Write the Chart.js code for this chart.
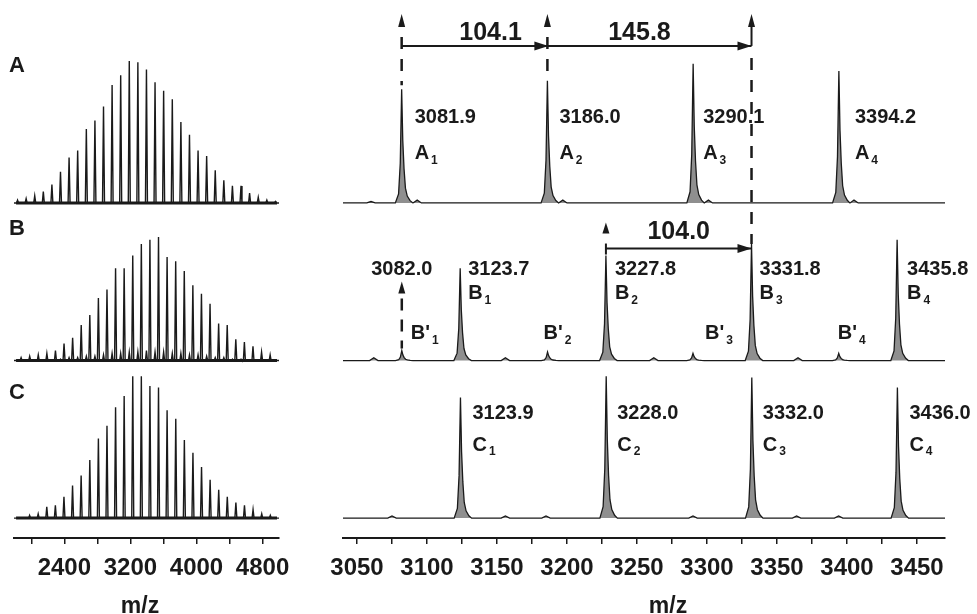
<!DOCTYPE html>
<html>
<head>
<meta charset="utf-8">
<script src="https://cdn.jsdelivr.net/npm/chart.js@4.4.1/dist/chart.umd.min.js"></script>
<style>
  body { margin: 0; width: 977px; height: 614px; overflow: hidden; background: #fff; position: relative;
         font-family: 'Liberation Sans', Arial, sans-serif; color: #1a1a1a; }
  .wrap { position: absolute; top: 0; height: 614px; }
  .txt { position: absolute; font-weight: bold; font-size: 22px; line-height: 26px; white-space: nowrap; }
</style>
</head>
<body>
<div class="wrap" style="left:0;width:300px"><canvas id="left"></canvas></div>
<div class="wrap" style="left:310px;width:667px"><canvas id="right"></canvas></div>
<div class="txt" style="left:9px;top:52px">A</div>
<div class="txt" style="left:9px;top:215px">B</div>
<div class="txt" style="left:9px;top:379px">C</div>
<div class="txt" style="left:100px;top:592px;width:80px;text-align:center;font-size:23px">m/z</div>
<div class="txt" style="left:628px;top:592px;width:80px;text-align:center;font-size:23px">m/z</div>
<script>
// overview spectra (left): peak m/z and intensity in % of the tallest peak
const overviewA_mz = [1833, 1937, 2041, 2145, 2249, 2353, 2457, 2561, 2666, 2770, 2874, 2978, 3082, 3186, 3290, 3394, 3498, 3602, 3707, 3811, 3915, 4019, 4123, 4227, 4331, 4435, 4539, 4643, 4748, 4852, 4956];
const overviewA_int = [2, 3, 5, 8, 13, 22, 32, 37, 52, 58, 68, 83, 90, 100, 99, 94, 85, 79, 73, 57, 48, 37, 33, 23, 16, 12, 12, 7, 4, 2, 1];
const overviewB_mz = [1876, 1980, 2084, 2188, 2292, 2396, 2500, 2604, 2708, 2812, 2916, 3020, 3124, 3228, 3332, 3436, 3540, 3644, 3748, 3852, 3956, 4060, 4164, 4268, 4372, 4476, 4580, 4684, 4788, 4892];
const overviewB_int = [2, 3, 4, 5, 7, 12, 16, 25, 32, 44, 50, 65, 65, 74, 82, 85, 87, 73, 70, 63, 53, 47, 40, 26, 25, 15, 13, 10, 6, 4];
const overviewBp_mz = [2353, 2457, 2561, 2666, 2770, 2874, 2978, 3082, 3186, 3290, 3394, 3498, 3602, 3707, 3811, 3915, 4019, 4123, 4227, 4331, 4435, 4539];
const overviewBp_int = [1, 2, 2, 3, 3, 4, 5, 5, 6, 6, 7, 6, 6, 5, 5, 4, 4, 3, 2, 2, 1, 1];
const overviewC_mz = [1979, 2083, 2187, 2291, 2395, 2499, 2603, 2708, 2812, 2916, 3020, 3124, 3228, 3332, 3436, 3540, 3644, 3749, 3853, 3957, 4061, 4165, 4269, 4373, 4477, 4581, 4685, 4790, 4894];
const overviewC_int = [2, 3, 8, 9, 15, 23, 30, 41, 56, 65, 78, 86, 100, 100, 93, 92, 76, 70, 55, 46, 36, 27, 20, 15, 11, 9, 6, 3, 2];

// zoomed spectra (right)
const zoomA_mz = [3081.9, 3186.0, 3290.1, 3394.2];
const zoomA_int = [80, 86, 98, 93];
const zoomB_mz = [3123.7, 3227.8, 3331.8, 3435.8];
const zoomB_int = [65, 74, 82, 85];
const zoomBp_mz = [3082.0, 3186.1, 3290.0, 3394.1];
const zoomBp_int = [7, 6, 5, 5];
const zoomC_mz = [3123.9, 3228.0, 3332.0, 3436.0];
const zoomC_int = [85, 100, 99, 92];
// small bumps on the baselines
const bumpA_mz = [3060, 3093, 3197, 3301, 3405];
const bumpA_int = [1, 2, 2, 2, 2];
const bumpB_mz = [3062, 3156, 3262, 3365];
const bumpB_int = [2, 2, 2, 2];
const bumpC_mz = [3075, 3156, 3185, 3290, 3364, 3394];
const bumpC_int = [1.5, 1.5, 1.5, 1.5, 1.5, 1.5];

// mass differences marked with arrows
const gapFrom = [3081.9, 3186.0, 3227.8];
const gapTo = [3186.0, 3331.8, 3331.8];
const gapLabels = ['104.1', '145.8', '104.0'];

// ticks and tick labels
const leftTicks = [2000, 2400, 2800, 3200, 3600, 4000, 4400, 4800];
const leftTickLabels = [2400, 3200, 4000, 4800];
const rightTicks = [3050, 3075, 3100, 3125, 3150, 3175, 3200, 3225, 3250, 3275, 3300, 3325, 3350, 3375, 3400, 3425, 3450];
const rightTickLabels = [3050, 3100, 3150, 3200, 3250, 3300, 3350, 3400, 3450];

const FONT = "'Liberation Sans', Arial, sans-serif";
const INK = '#1a1a1a';
const OFF = {A: 222, B: 111, C: 0};   // vertical stacking of the three traces

// peak profiles (dx in m/z, fraction of height)
const SPIKE = [[-12, 0], [0, 1], [12, 0]];
const PEAK = [[-4.5, 0], [-2.2, 0.08], [-1, 0.35], [0, 1], [0.8, 0.55], [1.7, 0.3], [2.7, 0.13], [4, 0.06], [6, 0.02], [8, 0]];
const BUMP = [[-3, 0], [0, 1], [3, 0]];

function trace(groups, offset, lo, hi) {
    const pts = [{x: lo, y: offset}, {x: hi, y: offset}];
    groups.forEach(([mzs, ints, shape]) => {
        mzs.forEach((m, i) => shape.forEach(([dx, f]) => pts.push({x: m + dx, y: offset + ints[i] * f})));
    });
    return pts.sort((a, b) => a.x - b.x);
}

function ds(data, offset, width, filled) {
    return {
        data: data,
        borderColor: INK,
        borderWidth: width,
        pointRadius: 0,
        tension: 0,
        fill: filled ? {value: offset} : false,
        backgroundColor: 'rgba(105,105,105,0.75)'
    };
}

function spectrumChart(id, lo, hi, tickValues, labelled, datasets, padding, plugins) {
    return new Chart(document.getElementById(id), {
        type: 'line',
        data: {datasets: datasets},
        options: {
            responsive: true,
            maintainAspectRatio: false,
            animation: false,
            layout: {padding: padding},
            plugins: {legend: {display: false}, tooltip: {enabled: false}},
            scales: {
                x: {
                    type: 'linear', min: lo, max: hi,
                    afterBuildTicks: s => { s.ticks = tickValues.map(v => ({value: v})); },
                    ticks: {
                        autoSkip: false, maxRotation: 0,
                        padding: 10, color: INK,
                        font: {family: FONT, size: 24, weight: 'bold'},
                        callback: v => labelled.includes(Math.round(v)) ? String(Math.round(v)) : ''
                    },
                    grid: {drawOnChartArea: false, drawTicks: true, tickLength: 6, color: INK, lineWidth: 1.5},
                    border: {display: true, color: INK, width: 2},
                    afterFit: s => { s.height = 76; }
                },
                y: {display: false, min: -14, max: 360}
            }
        },
        plugins: plugins || []
    });
}

// left: overview spectra
const L0 = 1790, L1 = 5000;
spectrumChart('left', L0, L1, leftTicks, leftTickLabels, [
    ds(trace([[overviewA_mz, overviewA_int, SPIKE]], OFF.A, L0, L1), OFF.A, 1.4, false),
    ds(trace([[overviewB_mz, overviewB_int, SPIKE], [overviewBp_mz, overviewBp_int, SPIKE]], OFF.B, L0, L1), OFF.B, 1.4, false),
    ds(trace([[overviewC_mz, overviewC_int, SPIKE]], OFF.C, L0, L1), OFF.C, 1.4, false),
    ds([{x: L0 + 25, y: OFF.A}, {x: L1 - 25, y: OFF.A}], OFF.A, 3, false),
    ds([{x: L0 + 25, y: OFF.B}, {x: L1 - 25, y: OFF.B}], OFF.B, 3, false),
    ds([{x: L0 + 25, y: OFF.C}, {x: L1 - 25, y: OFF.C}], OFF.C, 3, false)
], {left: 14, right: 12, top: 7, bottom: 0});

// helpers for the annotations
function upHead(ctx, x, tip, base) {
    ctx.beginPath();
    ctx.moveTo(x, tip); ctx.lineTo(x - 3.5, base); ctx.lineTo(x + 3.5, base);
    ctx.closePath(); ctx.fill();
}
function rightHead(ctx, x, y) {
    ctx.beginPath();
    ctx.moveTo(x, y); ctx.lineTo(x - 14, y - 4.5); ctx.lineTo(x - 14, y + 4.5);
    ctx.closePath(); ctx.fill();
}
function seg(ctx, x1, y1, x2, y2, width, dash) {
    ctx.save();
    ctx.lineWidth = width;
    ctx.setLineDash(dash || []);
    ctx.beginPath(); ctx.moveTo(x1, y1); ctx.lineTo(x2, y2); ctx.stroke();
    ctx.restore();
}
function peakLabel(ctx, mass, letter, sub, x, yMass, ySub) {
    ctx.textAlign = 'left';
    ctx.textBaseline = 'middle';
    ctx.font = 'bold 20px ' + FONT;
    if (mass) ctx.fillText(mass, x, yMass);
    ctx.fillText(letter, x, ySub);
    const w = ctx.measureText(letter).width;
    ctx.font = 'bold 12px ' + FONT;
    ctx.fillText(sub, x + w + 2, ySub + 7);
}

const decor = {
    id: 'decor',
    afterDatasetsDraw(chart) {
        const ctx = chart.ctx;
        const X = v => chart.scales.x.getPixelForValue(v);
        const Y = v => chart.scales.y.getPixelForValue(v);
        const yA = Y(OFF.A), yB = Y(OFF.B), yC = Y(OFF.C);
        ctx.save();
        ctx.fillStyle = INK;
        ctx.strokeStyle = INK;

        // peak labels
        const aShift = [13, 12, 10, 16], bShift = [8, 9, 8, 10], bpShift = [9, -4, 12, -1], cShift = [12, 11, 11, 12];
        zoomA_mz.forEach((m, i) => peakLabel(ctx, m.toFixed(1), 'A', String(i + 1), X(m) + aShift[i], yA - 85, yA - 49));
        zoomB_mz.forEach((m, i) => peakLabel(ctx, m.toFixed(1), 'B', String(i + 1), X(m) + bShift[i], yB - 91, yB - 67));
        zoomBp_mz.forEach((m, i) => peakLabel(ctx, null, "B'", String(i + 1), X(m) + bpShift[i], 0, yB - 27));
        zoomC_mz.forEach((m, i) => peakLabel(ctx, m.toFixed(1), 'C', String(i + 1), X(m) + cShift[i], yC - 105, yC - 73));

        // top row: 104.1 and 145.8
        const tip = yA - 189, hb = yA - 176, yLine = yA - 157;
        const xa = X(gapFrom[0]), xb = X(gapTo[0]), xc = X(gapTo[1]);
        [xa, xb, xc].forEach(px => upHead(ctx, px, tip, hb));
        seg(ctx, xa, yLine, xc, yLine, 2);
        rightHead(ctx, xb + 1, yLine);
        rightHead(ctx, xc, yLine);
        seg(ctx, xa, hb + 10, xa, Y(OFF.A + zoomA_int[0]) - 4, 2.5, [12, 10]);
        seg(ctx, xb, hb + 10, xb, Y(OFF.A + zoomA_int[1]) - 2, 2.5, [12, 10]);
        seg(ctx, xc, hb, xc, yLine, 2);
        seg(ctx, xc, yLine + 12, xc, Y(OFF.B + zoomB_int[2]), 2.5, [12, 10]);

        ctx.font = 'bold 25px ' + FONT;
        ctx.textAlign = 'center';
        ctx.textBaseline = 'middle';
        ctx.fillText(gapLabels[0], (xa + xb) / 2 + 16, yA - 170);
        ctx.fillText(gapLabels[1], (xb + xc) / 2 - 10, yA - 170);

        // second row: 104.0
        const xd = X(gapFrom[2]), xe = X(gapTo[2]);
        const y2 = yB - 112;
        upHead(ctx, xd, yB - 138, yB - 127);
        seg(ctx, xd, y2 - 5, xd, y2 + 6, 2);
        seg(ctx, xd, y2, xe, y2, 2);
        rightHead(ctx, xe, y2);
        ctx.fillText(gapLabels[2], (xd + xe) / 2, yB - 128);

        // B'1 marker
        const xp = X(zoomBp_mz[0]);
        ctx.font = 'bold 20px ' + FONT;
        ctx.fillText(zoomBp_mz[0].toFixed(1), xp, yB - 91);
        upHead(ctx, xp, yB - 79, yB - 67);
        seg(ctx, xp, yB - 62, xp, Y(OFF.B + zoomBp_int[0]) - 2, 2.5, [12, 9]);
        ctx.restore();
    }
};

// right: zoomed spectra
const R0 = 3040, R1 = 3470;
spectrumChart('right', R0, R1, rightTicks, rightTickLabels, [
    ds(trace([[zoomA_mz, zoomA_int, PEAK], [bumpA_mz, bumpA_int, BUMP]], OFF.A, R0, R1), OFF.A, 1.3, true),
    ds(trace([[zoomB_mz, zoomB_int, PEAK], [zoomBp_mz, zoomBp_int, PEAK], [bumpB_mz, bumpB_int, BUMP]], OFF.B, R0, R1), OFF.B, 1.3, true),
    ds(trace([[zoomC_mz, zoomC_int, PEAK], [bumpC_mz, bumpC_int, BUMP]], OFF.C, R0, R1), OFF.C, 1.3, true)
], {left: 33, right: 32, top: 7, bottom: 0}, [decor]);
</script>
</body>
</html>
